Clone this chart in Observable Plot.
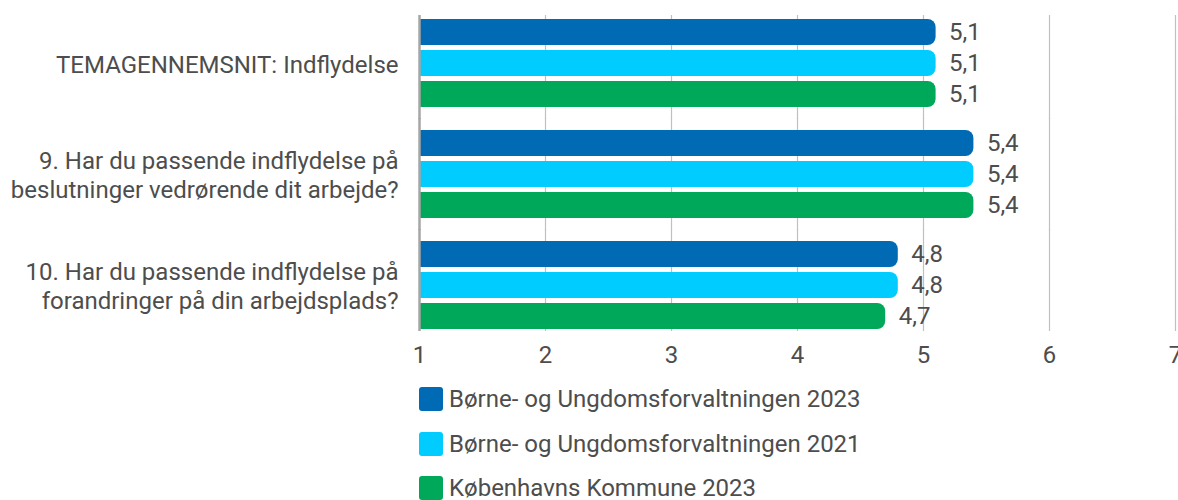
<!DOCTYPE html>
<html>
<head>
<meta charset="utf-8">
<script src="https://cdn.jsdelivr.net/npm/d3@7"></script>
<script src="https://cdn.jsdelivr.net/npm/@observablehq/plot@0.6"></script>
<style>
  html, body { margin: 0; padding: 0; background: #fff; }
  body { width: 1178px; height: 500px; overflow: hidden; font-family: Roboto, sans-serif; }
  #legend { margin-left: 419px; }
  .item { height: 44.5px; display: flex; align-items: center; font-size: 24px; color: #4d4d4d; }
  .sw { width: 24px; height: 24px; border-radius: 3px; margin-right: 6px; flex: none; }
</style>
</head>
<body>
<div id="chart"></div>
<div id="legend"></div>
<script>
const questions = [
  "TEMAGENNEMSNIT: Indflydelse",
  "9. Har du passende indflydelse på\nbeslutninger vedrørende dit arbejde?",
  "10. Har du passende indflydelse på\nforandringer på din arbejdsplads?"
];
const series = [
  "Børne- og Ungdomsforvaltningen 2023",
  "Børne- og Ungdomsforvaltningen 2021",
  "Københavns Kommune 2023"
];
const colors = ["#006AB4", "#00CCFF", "#00A85A"];
const buf2023 = [5.1, 5.4, 4.8];
const buf2021 = [5.1, 5.4, 4.8];
const kk2023 = [5.1, 5.4, 4.7];
const xTicks = [1, 2, 3, 4, 5, 6, 7];

const seriesValues = [buf2023, buf2021, kk2023];
const rows = questions.flatMap((q, i) => series.map((s, j) => ({q, s, v: seriesValues[j][i]})));
const fmt = v => d3.format(".1f")(v).replace(".", ",");

const gridRows = (qs) => qs.flatMap(q => xTicks.filter(t => t !== 1).map(t => ({q, t})));
const axisRows = (qs) => qs.map(q => ({q, t: 1}));

const gridStyle = {stroke: "#c0c0c0", strokeWidth: 1.2};
const axisStyle = {stroke: "#a6a6a6", strokeWidth: 2.5};
const textColor = "#4d4d4d";

const chart = Plot.plot({
  width: 1178,
  height: 377,
  marginLeft: 419,
  marginRight: 3,
  marginTop: 18,
  marginBottom: 47,
  style: {fontFamily: "Roboto, sans-serif", fontSize: "24px", color: textColor, background: "white", overflow: "visible"},
  x: {domain: [1, 7], ticks: xTicks, tickSize: 0, tickPadding: 15, label: null, tickFormat: d => String(d)},
  y: {domain: series, axis: null, paddingInner: 0.16, paddingOuter: 0},
  fy: {domain: questions, axis: null, paddingInner: 0.19, paddingOuter: 0},
  color: {domain: series, range: colors},
  marks: [
    Plot.ruleX(gridRows([questions[0]]), {fy: "q", x: "t", insetTop: -3, insetBottom: -11, ...gridStyle}),
    Plot.ruleX(gridRows([questions[1]]), {fy: "q", x: "t", insetTop: -11, insetBottom: -11, ...gridStyle}),
    Plot.ruleX(gridRows([questions[2]]), {fy: "q", x: "t", insetTop: -11, insetBottom: -1, ...gridStyle}),
    Plot.barX(rows, {fy: "q", y: "s", x1: 1, x2: "v", fill: "s", rx: 8}),
    Plot.barX(rows, {fy: "q", y: "s", x1: 1, x2: "v", fill: "s", insetRight: 8}),
    Plot.ruleX(axisRows([questions[0]]), {fy: "q", x: "t", insetTop: -3, insetBottom: -11, ...axisStyle}),
    Plot.ruleX(axisRows([questions[1]]), {fy: "q", x: "t", insetTop: -11, insetBottom: -11, ...axisStyle}),
    Plot.ruleX(axisRows([questions[2]]), {fy: "q", x: "t", insetTop: -11, insetBottom: -1, ...axisStyle}),
    Plot.text(rows, {fy: "q", y: "s", x: "v", text: d => fmt(d.v), dx: 13, textAnchor: "start", fontSize: 24, fill: textColor}),
    Plot.text(questions, {fy: d => d, text: d => d, frameAnchor: "left", dx: -21, textAnchor: "end", fontSize: 24, lineHeight: 1.2, fill: textColor})
  ]
});
document.getElementById("chart").appendChild(chart);

const legend = document.getElementById("legend");
series.forEach((s, i) => {
  const item = document.createElement("div");
  item.className = "item";
  const sw = document.createElement("span");
  sw.className = "sw";
  sw.style.background = colors[i];
  const label = document.createElement("span");
  label.textContent = s;
  item.appendChild(sw);
  item.appendChild(label);
  legend.appendChild(item);
});
</script>
</body>
</html>
